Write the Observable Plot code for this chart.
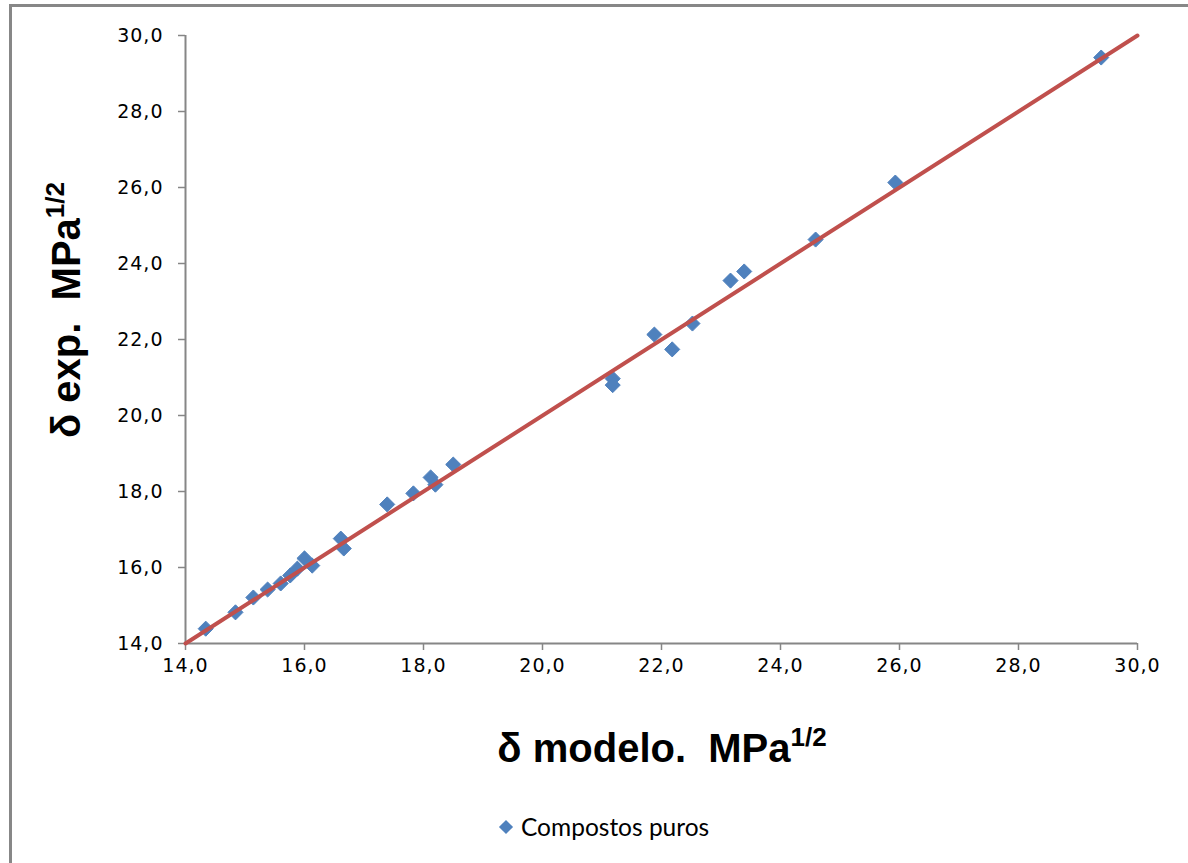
<!DOCTYPE html>
<html>
<head>
<meta charset="utf-8">
<script src="https://cdn.jsdelivr.net/npm/d3@7"></script>
<script src="https://cdn.jsdelivr.net/npm/@observablehq/plot@0.6"></script>
<style>
  html, body { margin: 0; padding: 0; background: #fff; overflow: hidden; }
  #wrap { position: relative; width: 1188px; height: 863px; }
  #frame { position: absolute; left: 9px; top: 4px; width: 1300px; height: 1000px; border: 3px solid #878787; box-sizing: border-box; pointer-events: none; }
  #chart { position: absolute; left: 0; top: 0; }
  #chart svg g[aria-label$="tick label"] text { font-family: "DejaVu Sans", sans-serif; font-size: 19px; letter-spacing: 1px; }
  #legend { position: absolute; left: 497px; top: 812px; font-family: Lato, "Open Sans", sans-serif; font-size: 24.5px; color: #000; display: flex; align-items: center; }
  #legend .sw { width: 10px; height: 10px; background: #4F81BD; transform: rotate(45deg); margin: 0 10px 0 4px; }
</style>
</head>
<body>
<div id="wrap">
  <div id="chart"></div>
  <div id="frame"></div>
  <div id="legend"><span class="sw"></span><span id="legendText"></span></div>
</div>
<script>
// Data
const seriesName = "Compostos puros";
const modelo = [14.34, 14.84, 15.14, 15.38, 15.60, 15.76, 15.88, 16.00, 16.13, 16.61, 16.66,
                17.39, 17.83, 18.12, 18.20, 18.50, 21.18, 21.18, 21.88, 22.18, 22.52,
                23.16, 23.39, 24.59, 25.93, 29.39];
const experimental = [14.39, 14.82, 15.21, 15.42, 15.58, 15.79, 15.97, 16.24, 16.05, 16.76, 16.50,
                17.66, 17.95, 18.37, 18.18, 18.71, 20.97, 20.80, 22.13, 21.74, 22.42,
                23.55, 23.79, 24.63, 26.13, 29.42];
const lineX = [14, 30];
const lineY = [14, 30];
const axisTicks = [14, 16, 18, 20, 22, 24, 26, 28, 30];
const xLabel = ["δ modelo.  MPa", "1/2"];
const yLabel = ["δ exp.  MPa", "1/2"];

const points = modelo.map((m, i) => ({x: m, y: experimental[i]}));
const fitLine = lineX.map((v, i) => ({x: v, y: lineY[i]}));
const fmt = d => d.toFixed(1).replace(".", ",");

const W = 1188, H = 800;
const mL = 185, mR = 51, mT = 35, mB = 157;

const plot = Plot.plot({
  width: W, height: H,
  marginLeft: mL, marginRight: mR, marginTop: mT, marginBottom: mB,
  style: { background: "transparent", fontFamily: "DejaVu Sans, sans-serif", fontSize: "19px", color: "#000" },
  x: { domain: [14, 30], label: null },
  y: { domain: [14, 30], label: null },
  marks: [
    Plot.axisX({ ticks: axisTicks, tickFormat: fmt, tickSize: 7, tickPadding: 8, stroke: "#868686", strokeWidth: 1.5, strokeOpacity: 1, fill: "#000" }),
    Plot.axisY({ ticks: axisTicks, tickFormat: fmt, tickSize: 7, tickPadding: 15, stroke: "#868686", strokeWidth: 1.5, strokeOpacity: 1, fill: "#000" }),
    Plot.ruleY([14], { stroke: "#868686", strokeWidth: 2 }),
    Plot.ruleX([14], { stroke: "#868686", strokeWidth: 2 }),
    Plot.dot(points, { x: "x", y: "y", symbol: "diamond2", r: 6.8, fill: "#4F81BD", stroke: "#4F81BD", strokeWidth: 1 }),
    Plot.line(fitLine, { x: "x", y: "y", stroke: "#C0504D", strokeWidth: 4 })
  ]
});

const svg = d3.select(plot);
// x axis title with superscript
const xt = svg.append("text")
  .attr("x", 662)
  .attr("y", 762)
  .attr("text-anchor", "middle")
  .style("white-space", "pre")
  .style("font-family", "Liberation Sans, Arial, sans-serif")
  .style("font-weight", "bold")
  .style("font-size", "40px")
  .attr("fill", "#000");
xt.append("tspan").text(xLabel[0]);
xt.append("tspan").attr("dy", -16).style("font-size", "26px").text(xLabel[1]);

const yt = svg.append("text")
  .attr("transform", `translate(80, 310) rotate(-90)`)
  .attr("text-anchor", "middle")
  .style("white-space", "pre")
  .style("font-family", "Liberation Sans, Arial, sans-serif")
  .style("font-weight", "bold")
  .style("font-size", "40px")
  .attr("fill", "#000");
yt.append("tspan").text(yLabel[0]);
yt.append("tspan").attr("dy", -16).style("font-size", "26px").text(yLabel[1]);

document.getElementById("chart").appendChild(plot);
document.getElementById("legendText").textContent = seriesName;
</script>
</body>
</html>
